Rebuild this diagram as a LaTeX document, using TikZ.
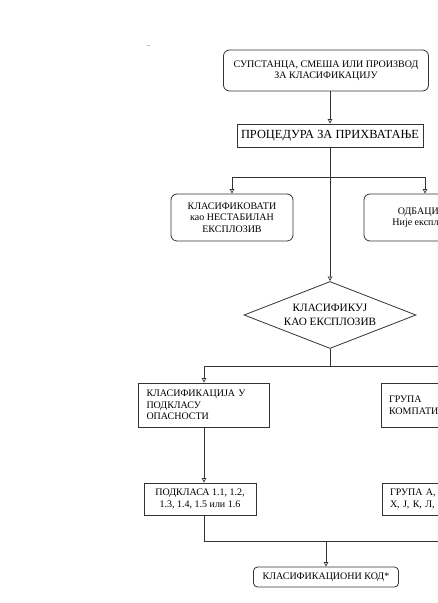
\documentclass[tikz,border=0pt]{standalone}
\usepackage{fontspec}
\setmainfont{Liberation Serif}
\usetikzlibrary{shapes.geometric,arrows.meta}
\tikzset{
  ln/.style={draw=black!80, line width=0.7pt},
  arr/.style={ln, -{Triangle[open,length=4.5pt,width=4.5pt]}},
  box/.style={draw=black!80, line width=0.8pt, inner sep=0pt, align=center,
    font=\fontsize{10}{11.5}\selectfont},
  rbox/.style={box, rounded corners=6pt},
  lbox/.style={box, align=left, inner xsep=8pt, inner ysep=0pt},
}
\begin{document}
\begin{tikzpicture}[x=1pt,y=-1pt]
\useasboundingbox (0,0) rectangle (438,603);
\clip (0,0) rectangle (438,603);
\fill[white] (0,0) rectangle (438,603);
\draw[gray!50, line width=0.5pt] (147,45) -- (150,45);

\node[rbox, minimum width=205pt, minimum height=41pt] (top) at (326,70.5)
  {СУПСТАНЦА, СМЕША ИЛИ ПРОИЗВОД\\ЗА КЛАСИФИКАЦИЈУ};
\node[box, minimum width=186pt, minimum height=23pt, font=\fontsize{12.4}{14}\selectfont] (proc) at (330,135.5)
  {ПРОЦЕДУРА ЗА ПРИХВАТАЊЕ};
\node[rbox, minimum width=122pt, minimum height=47pt] (unst) at (232,217.5)
  {КЛАСИФИКОВАТИ\\као НЕСТАБИЛАН\\ЕКСПЛОЗИВ};
\node[rbox, minimum width=122pt, minimum height=47pt] (rej) at (425,217.5)
  {ОДБАЦИТИ\\Није експлозив};
\node[box, diamond, minimum width=172pt, minimum height=67pt, aspect=2.6,
  font=\fontsize{11.2}{14}\selectfont] (expl) at (330,315)
  {КЛАСИФИКУЈ\\КАО ЕКСПЛОЗИВ};
\node[lbox, text width=115pt, minimum height=44pt] (haz) at (204,405)
  {КЛАСИФИКАЦИЈА У\\ПОДКЛАСУ\\ОПАСНОСТИ};
\node[lbox, text width=115pt, minimum height=44pt] (comp) at (446.5,405)
  {ГРУПА\\КОМПАТИБИЛНОСТИ};
\node[box, minimum width=112pt, minimum height=32pt] (sub) at (200,499)
  {ПОДКЛАСА 1.1, 1.2,\\1.3, 1.4, 1.5 или 1.6};
\node[lbox, text width=140pt, minimum height=32pt] (grp) at (460,499)
  {ГРУПА А, Б, Ц, Д, Е, Ф, Г,\\Х, Ј, К, Л, Н или С};
\node[rbox, minimum width=145pt, minimum height=20pt, rounded corners=4pt] (code) at (326,577)
  {КЛАСИФИКАЦИОНИ КОД*};

\coordinate (j1) at (330,177);
\coordinate (j2) at (330,366);
\coordinate (j3) at (326,541);

\draw[arr] (top.south -| proc) -- (proc.north);
\draw[ln] (proc.south) -- (j1);
\draw[arr] (j1) -| (unst.north);
\draw[arr] (j1) -| (rej.north);
\draw[arr] (j1) -- (expl.north);
\draw[ln] (expl.south) -- (j2);
\draw[arr] (j2) -| (haz.north);
\draw[arr] (j2) -| (comp.north);
\draw[arr] (haz.south) -- (haz.south |- sub.north);
\draw[arr] (comp.south) -- (comp.south |- grp.north);
\draw[ln] (sub.south -| haz.south) |- (j3);
\draw[ln] (grp.south) |- (j3);
\draw[arr] (j3) -- (code.north);
\end{tikzpicture}
\end{document}
